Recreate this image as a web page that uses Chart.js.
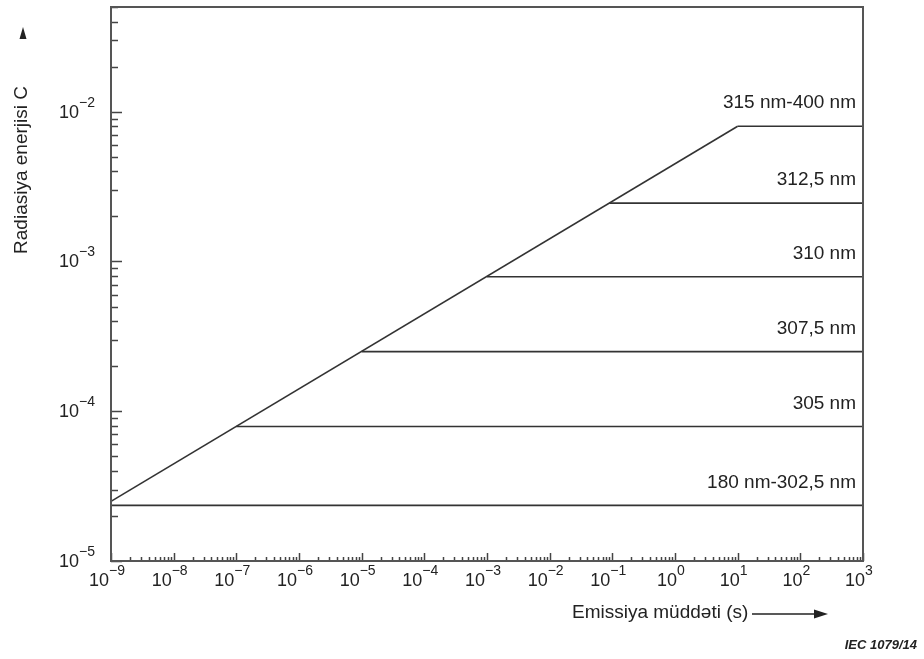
<!DOCTYPE html>
<html>
<head>
<meta charset="utf-8">
<script src="https://cdn.jsdelivr.net/npm/chart.js@4.4.1/dist/chart.umd.min.js"></script>
<style>
  html, body { margin: 0; padding: 0; background: #fff; }
  #wrap { width: 924px; height: 659px; }
</style>
</head>
<body>
<div id="wrap"><canvas id="chart" width="924" height="659"></canvas></div>
<script>
// wavelength bands (J, plateau level and where it starts in s)
const bandNames = ['180 nm-302,5 nm', '305 nm', '307,5 nm', '310 nm', '312,5 nm', '315 nm-400 nm'];
const bandEnergy = [2.35e-5, 7.9e-5, 2.5e-4, 7.9e-4, 2.45e-3, 8.0e-3];
const bandStart = [1e-9, 1e-7, 1e-5, 1e-3, 9e-2, 10];
const bandEnd = [1e3, 1e3, 1e3, 1e3, 1e3, 1e3];

// the rising slope
const slopeTime = [1e-9, 10];
const slopeEnergy = [2.5e-5, 8.0e-3];

// axis tick labels: powers of ten
const xExponents = [-9, -8, -7, -6, -5, -4, -3, -2, -1, 0, 1, 2, 3];
const yExponents = [-5, -4, -3, -2];

const lineColor = '#333';
const textColor = '#222';
const fontFamily = '"Liberation Sans", Arial, sans-serif';

function logTicks(min, max) {
    const out = [];
    const lo = Math.floor(Math.log10(min)), hi = Math.ceil(Math.log10(max));
    for (let e = lo; e <= hi; e++) {
        for (let m = 1; m <= 9; m++) {
            const v = m * Math.pow(10, e);
            if (v >= min * 0.999 && v <= max * 1.001) out.push({ value: v, major: m === 1 });
        }
    }
    return out;
}

function expText(e) {
    return e < 0 ? '\u2212' + (-e) : String(e);
}

// draws "10" with a raised exponent; anchor: 'center' or 'right'
function drawPower(ctx, e, x, y, anchor) {
    ctx.font = '18px ' + fontFamily;
    const wBase = ctx.measureText('10').width;
    ctx.font = '14px ' + fontFamily;
    const ex = expText(e);
    const wExp = ctx.measureText(ex).width;
    const total = wBase + wExp;
    const left = anchor === 'right' ? x - total : x - total / 2;
    ctx.textAlign = 'left';
    ctx.textBaseline = 'middle';
    ctx.font = '18px ' + fontFamily;
    ctx.fillText('10', left, y);
    ctx.font = '14px ' + fontFamily;
    ctx.fillText(ex, left + wBase, y - 10);
}

const datasets = [{
    label: 'slope',
    data: slopeTime.map((t, i) => ({ x: t, y: slopeEnergy[i] })),
    borderColor: lineColor,
    borderWidth: 1.6,
    pointRadius: 0,
    fill: false
}];
bandNames.forEach((name, i) => {
    datasets.push({
        label: name,
        data: [{ x: bandStart[i], y: bandEnergy[i] }, { x: bandEnd[i], y: bandEnergy[i] }],
        borderColor: lineColor,
        borderWidth: 1.6,
        pointRadius: 0,
        fill: false
    });
});

const decorPlugin = {
    id: 'decor',
    afterDatasetsDraw(chart) {
        const ctx = chart.ctx;
        const a = chart.chartArea;
        const xs = chart.scales.x, ys = chart.scales.y;
        ctx.save();
        // inward tick marks
        ctx.strokeStyle = '#444';
        ctx.lineWidth = 1.5;
        ctx.beginPath();
        xs.ticks.forEach(t => {
            const px = Math.round(xs.getPixelForValue(t.value)) + 0.5;
            const len = t.major ? 8 : 4;
            ctx.moveTo(px, a.bottom);
            ctx.lineTo(px, a.bottom - len);
        });
        ys.ticks.forEach(t => {
            const py = Math.round(ys.getPixelForValue(t.value)) + 0.5;
            const len = t.major ? 11 : 7;
            ctx.moveTo(a.left, py);
            ctx.lineTo(a.left + len, py);
        });
        ctx.stroke();
        // frame
        ctx.strokeStyle = '#555';
        ctx.lineWidth = 2;
        ctx.strokeRect(a.left, a.top, a.right - a.left, a.bottom - a.top);

        // band names above each plateau
        ctx.fillStyle = textColor;
        ctx.font = '19px ' + fontFamily;
        ctx.textAlign = 'right';
        ctx.textBaseline = 'middle';
        bandNames.forEach((name, i) => {
            const py = ys.getPixelForValue(bandEnergy[i]);
            ctx.fillText(name, a.right - 7, py - 23);
        });
        ctx.restore();
    },
    afterDraw(chart) {
        const ctx = chart.ctx;
        const a = chart.chartArea;
        const xs = chart.scales.x, ys = chart.scales.y;
        ctx.save();
        ctx.fillStyle = textColor;
        ctx.strokeStyle = textColor;

        // tick labels
        xExponents.forEach(e => {
            drawPower(ctx, e, xs.getPixelForValue(Math.pow(10, e)) - 4, a.bottom + 20, 'center');
        });
        yExponents.forEach(e => {
            drawPower(ctx, e, a.left - 16, ys.getPixelForValue(Math.pow(10, e)) + 1, 'right');
        });

        ctx.font = '19px ' + fontFamily;
        ctx.textBaseline = 'middle';

        // y title, rotated, with arrow above
        ctx.save();
        ctx.translate(22, 170);
        ctx.rotate(-Math.PI / 2);
        ctx.textAlign = 'center';
        ctx.fillText('Radiasiya enerjisi C', 0, 0);
        ctx.restore();
        ctx.beginPath();
        ctx.moveTo(23, 27);
        ctx.lineTo(19.5, 39);
        ctx.lineTo(26.5, 39);
        ctx.closePath();
        ctx.fill();

        // x title with arrow
        ctx.textAlign = 'left';
        ctx.fillText('Emissiya müddəti (s)', 572, 613);
        ctx.lineWidth = 1.5;
        ctx.beginPath();
        ctx.moveTo(752, 614);
        ctx.lineTo(818, 614);
        ctx.stroke();
        ctx.beginPath();
        ctx.moveTo(828, 614);
        ctx.lineTo(814, 609.5);
        ctx.lineTo(814, 618.5);
        ctx.closePath();
        ctx.fill();

        // figure id
        ctx.font = 'italic bold 13px ' + fontFamily;
        ctx.textAlign = 'right';
        ctx.fillText('IEC 1079/14', 917, 645);
        ctx.restore();
    }
};

new Chart(document.getElementById('chart'), {
    type: 'line',
    data: { datasets: datasets },
    options: {
        responsive: false,
        animation: false,
        devicePixelRatio: 1,
        layout: { padding: { left: 0, right: 61, top: 7, bottom: 0 } },
        plugins: { legend: { display: false }, tooltip: { enabled: false } },
        elements: { line: { tension: 0 } },
        scales: {
            x: {
                type: 'logarithmic',
                min: 1e-9,
                max: 1e3,
                border: { display: false },
                grid: { drawOnChartArea: false, drawTicks: false },
                afterBuildTicks: s => { s.ticks = logTicks(1e-9, 1e3); },
                afterFit: s => { s.height = 98; s.paddingLeft = 0; s.paddingRight = 0; },
                ticks: { display: false }
            },
            y: {
                type: 'logarithmic',
                min: 1e-5,
                max: 5e-2,
                border: { display: false },
                grid: { drawOnChartArea: false, drawTicks: false },
                afterBuildTicks: s => { s.ticks = logTicks(1e-5, 5e-2); },
                afterFit: s => { s.width = 111; s.paddingTop = 0; s.paddingBottom = 0; },
                ticks: { display: false }
            }
        }
    },
    plugins: [decorPlugin]
});
</script>
</body>
</html>
